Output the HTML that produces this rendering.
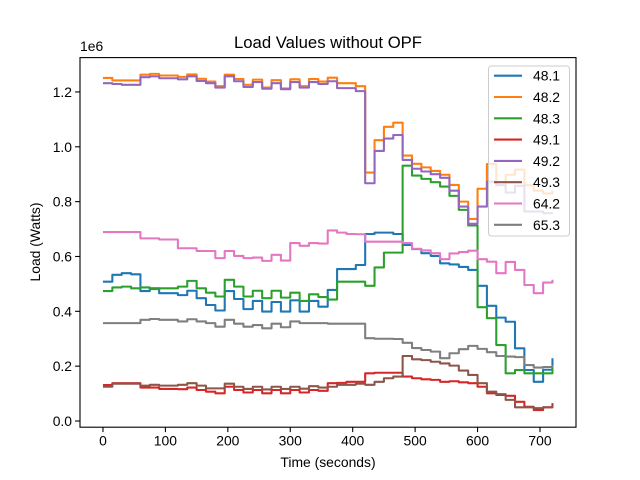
<!DOCTYPE html>
<html><head><meta charset="utf-8"><style>
body{margin:0;background:#fff;}
svg{display:block;font-family:"Liberation Sans","DejaVu Sans",sans-serif;}
</style></head><body>
<svg id="chart" width="640" height="480"></svg>
<script>
const times = [];
for (let k = 0; k <= 48; k++) times.push(k * 15);
const seriesNames = ["48.1","48.2","48.3","49.1","49.2","49.3","64.2","65.3"];
const colors = ["#1f77b4","#ff7f0e","#2ca02c","#d62728","#9467bd","#8c564b","#e377c2","#7f7f7f"];
const s481 = [0.508,0.533,0.539,0.535,0.474,0.484,0.466,0.466,0.459,0.475,0.448,0.423,0.403,0.474,0.445,0.408,0.438,0.399,0.434,0.399,0.440,0.399,0.438,0.417,0.478,0.554,0.554,0.569,0.682,0.687,0.687,0.682,0.642,0.627,0.612,0.602,0.575,0.571,0.562,0.551,0.493,0.420,0.377,0.362,0.265,0.186,0.143,0.187,0.229];
const s482 = [1.251,1.242,1.242,1.242,1.263,1.266,1.260,1.260,1.255,1.264,1.248,1.238,1.221,1.263,1.247,1.226,1.245,1.216,1.243,1.213,1.246,1.221,1.247,1.238,1.252,1.232,1.232,1.221,0.906,1.024,1.073,1.088,0.968,0.938,0.925,0.912,0.898,0.861,0.800,0.737,0.847,0.937,0.861,0.898,0.917,0.860,0.840,0.830,0.840];
const s483 = [0.474,0.487,0.490,0.484,0.487,0.481,0.484,0.484,0.490,0.511,0.484,0.468,0.454,0.515,0.490,0.454,0.475,0.448,0.475,0.450,0.468,0.438,0.462,0.452,0.443,0.508,0.508,0.508,0.493,0.560,0.614,0.614,0.931,0.895,0.883,0.871,0.855,0.821,0.770,0.713,0.415,0.375,0.277,0.174,0.186,0.174,0.174,0.174,0.198];
const s491 = [0.131,0.138,0.138,0.138,0.122,0.122,0.117,0.117,0.116,0.122,0.113,0.107,0.101,0.125,0.113,0.104,0.113,0.101,0.113,0.101,0.113,0.104,0.113,0.110,0.138,0.139,0.143,0.143,0.174,0.176,0.176,0.176,0.162,0.156,0.152,0.150,0.143,0.145,0.141,0.138,0.125,0.101,0.095,0.092,0.070,0.052,0.040,0.050,0.065];
const s492 = [1.232,1.229,1.226,1.226,1.254,1.257,1.250,1.250,1.246,1.257,1.240,1.232,1.216,1.257,1.239,1.218,1.236,1.212,1.232,1.210,1.236,1.216,1.236,1.229,1.239,1.214,1.214,1.203,0.867,0.985,1.030,1.043,0.952,0.920,0.910,0.900,0.887,0.840,0.782,0.719,0.782,0.873,0.860,0.833,0.858,0.764,0.764,0.758,0.760];
const s493 = [0.125,0.136,0.136,0.136,0.129,0.132,0.129,0.129,0.132,0.138,0.129,0.119,0.119,0.136,0.125,0.117,0.125,0.115,0.125,0.117,0.125,0.118,0.127,0.122,0.125,0.132,0.132,0.136,0.132,0.143,0.156,0.162,0.237,0.225,0.222,0.216,0.210,0.202,0.184,0.168,0.138,0.107,0.098,0.077,0.050,0.050,0.047,0.050,0.055];
const s642 = [0.689,0.689,0.689,0.689,0.666,0.666,0.662,0.662,0.630,0.630,0.620,0.620,0.594,0.620,0.602,0.594,0.596,0.584,0.606,0.585,0.649,0.639,0.649,0.647,0.695,0.687,0.682,0.681,0.654,0.654,0.654,0.654,0.649,0.628,0.622,0.612,0.590,0.611,0.616,0.621,0.590,0.581,0.539,0.580,0.551,0.496,0.466,0.505,0.515];
const s653 = [0.357,0.357,0.357,0.357,0.369,0.372,0.369,0.369,0.363,0.371,0.363,0.357,0.344,0.369,0.355,0.344,0.350,0.338,0.355,0.342,0.363,0.357,0.357,0.357,0.355,0.355,0.355,0.355,0.302,0.300,0.300,0.299,0.285,0.266,0.259,0.253,0.229,0.247,0.262,0.274,0.263,0.251,0.237,0.235,0.233,0.204,0.195,0.197,0.204];
const allSeries = [s481,s482,s483,s491,s492,s493,s642,s653];
const xTicks = [0,100,200,300,400,500,600,700];
const yTicks = [0,0.2,0.4,0.6,0.8,1.0,1.2];

const L=80,R=576,T=57.6,B=427.2;
const XMIN=-36.8,XMAX=757.7,YMIN=-0.0226,YMAX=1.3253;
function xs(v){return L+(v-XMIN)/(XMAX-XMIN)*(R-L);}
function ys(v){return B-(v-YMIN)/(YMAX-YMIN)*(B-T);}
const NS="http://www.w3.org/2000/svg";
const svg=document.getElementById('chart');
function mk(tag,attrs,parent){const e=document.createElementNS(NS,tag);for(const k in attrs)e.setAttribute(k,attrs[k]);(parent||svg).appendChild(e);return e;}

allSeries.forEach((vals,i)=>{
  let d="M"+xs(times[0]).toFixed(2)+","+ys(vals[0]).toFixed(2);
  for(let k=1;k<vals.length;k++){
    d+="H"+xs(times[k]).toFixed(2)+"V"+ys(vals[k]).toFixed(2);
  }
  const p=mk('path',{d:d,fill:'none',stroke:colors[i],'stroke-width':2.08,'stroke-linejoin':'round'});
  
  
});

const frame=mk('rect',{x:L,y:T,width:R-L,height:B-T,fill:'none',stroke:'#000','stroke-width':1.1});



xTicks.forEach(v=>{
  const x=xs(v);
  const t=mk('line',{x1:x,x2:x,y1:B,y2:B+4.9,stroke:'#000','stroke-width':1.1});
  
  
  const lb=mk('text',{x:x,y:B+18.5,'font-size':13.9,'text-anchor':'middle',fill:'#000'});
  lb.textContent=String(v);
  
  
});
yTicks.forEach(v=>{
  const y=ys(v);
  const t=mk('line',{x1:L-4.9,x2:L,y1:y,y2:y,stroke:'#000','stroke-width':1.1});
  
  
  const lb=mk('text',{x:L-8,y:y+5,'font-size':13.9,'text-anchor':'end',fill:'#000'});
  lb.textContent=v.toFixed(1);
  
  
});

// legend
const lg=mk('rect',{x:488.5,y:66,width:81,height:170,rx:3,fill:'#fff','fill-opacity':0.8,stroke:'#ccc','stroke-width':1});


seriesNames.forEach((n,i)=>{
  const y=75.7+i*21.3;
  const ln=mk('line',{x1:494,x2:522,y1:y,y2:y,stroke:colors[i],'stroke-width':2.08});
  
  
  const tx=mk('text',{x:533,y:y+5,'font-size':13.9,fill:'#000'});
  tx.textContent=n;
  
  
});
</script>
<svg width="0" height="0"></svg>
<div style="position:absolute;left:0;top:0;width:640px;height:480px;pointer-events:none;font-family:'Liberation Sans','DejaVu Sans',sans-serif;">
  <div style="position:absolute;left:0;width:656px;top:33px;text-align:center;font-size:16.7px;">Load Values without OPF</div>
  <div style="position:absolute;left:80px;top:38px;font-size:13.9px;">1e6</div>
  <div style="position:absolute;left:0;width:656px;top:454px;text-align:center;font-size:13.9px;">Time (seconds)</div>
  <div style="position:absolute;left:-15px;top:234px;width:100px;text-align:center;font-size:13.9px;transform:rotate(-90deg);">Load (Watts)</div>
</div>
</body></html>
